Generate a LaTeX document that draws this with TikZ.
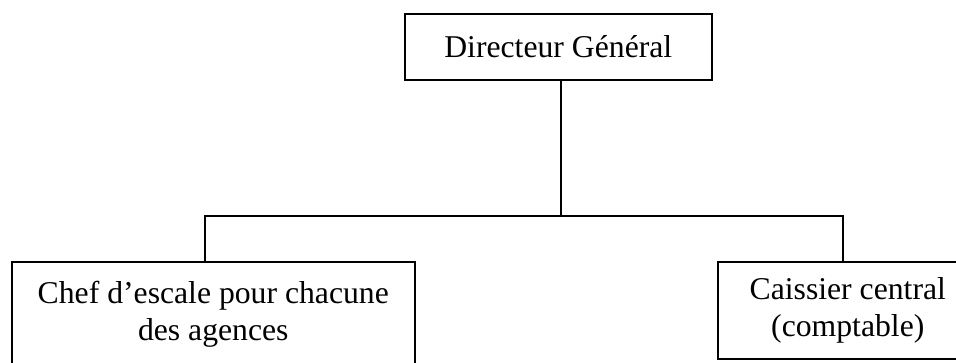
\documentclass[tikz,border=0pt]{standalone}
\usepackage{fontspec}
\setmainfont{Liberation Serif}
\begin{document}
\begin{tikzpicture}[x=1pt,y=-1pt,
  orgbox/.style={draw=black, line width=1.6pt, inner sep=0pt, align=center,
    font=\fontsize{31.7}{37}\selectfont, anchor=north west},
  link/.style={draw=black, line width=1.8pt}]
\useasboundingbox (0,0) rectangle (956,362);
\fill[white] (0,0) rectangle (956,362);
\node[orgbox, minimum width=307pt, minimum height=66pt] (dg) at (404,13) {Directeur Général};
\node[orgbox, minimum width=403pt, minimum height=104pt] (chef) at (11,261) {Chef d’escale pour chacune\\des agences};
\node[orgbox, minimum width=260pt, minimum height=97pt] (caissier) at (717,261) {Caissier central\\(comptable)};
\coordinate (j) at (561,216);
\coordinate (lj) at (205,216);
\coordinate (rj) at (843,216);
\draw[link] (j |- dg.south) -- (j);
\draw[link, line cap=rect] (lj) -- (rj);
\draw[link] (lj) -- (lj |- chef.north);
\draw[link] (rj) -- (rj |- caissier.north);
\end{tikzpicture}
\end{document}
